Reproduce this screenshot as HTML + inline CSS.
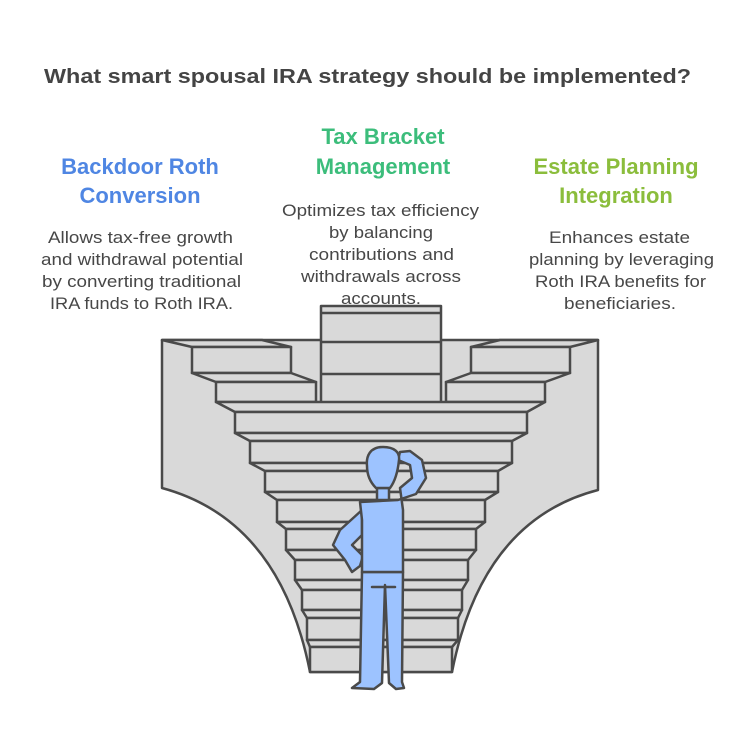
<!DOCTYPE html>
<html><head><meta charset="utf-8"><style>
html,body{margin:0;padding:0;background:#fff;}
svg{display:block;}
text{font-family:"Liberation Sans",sans-serif;}
</style></head><body>
<svg width="748" height="750" viewBox="0 0 748 750" xmlns="http://www.w3.org/2000/svg">
<text x="44" y="83" font-size="20" font-weight="bold" fill="#444" textLength="647" lengthAdjust="spacingAndGlyphs">What smart spousal IRA strategy should be implemented?</text>
<g font-weight="bold" font-size="22" text-anchor="middle">
<text x="140" y="174" fill="#4f86e3">Backdoor Roth</text>
<text x="140" y="203" fill="#4f86e3">Conversion</text>
<text x="383" y="144" fill="#3cbd7b">Tax Bracket</text>
<text x="383" y="174" fill="#3cbd7b">Management</text>
<text x="616" y="174" fill="#8bbd3c">Estate Planning</text>
<text x="616" y="203" fill="#8bbd3c">Integration</text>
</g>
<g font-size="16.5" fill="#474747" lengthAdjust="spacingAndGlyphs">
<text x="48" y="243" textLength="185" lengthAdjust="spacingAndGlyphs">Allows tax-free growth</text>
<text x="41" y="265" textLength="202" lengthAdjust="spacingAndGlyphs">and withdrawal potential</text>
<text x="42" y="287" textLength="199" lengthAdjust="spacingAndGlyphs">by converting traditional</text>
<text x="50" y="309" textLength="183" lengthAdjust="spacingAndGlyphs">IRA funds to Roth IRA.</text>
<text x="282" y="216" textLength="197" lengthAdjust="spacingAndGlyphs">Optimizes tax efficiency</text>
<text x="329" y="238" textLength="104" lengthAdjust="spacingAndGlyphs">by balancing</text>
<text x="309" y="260" textLength="145" lengthAdjust="spacingAndGlyphs">contributions and</text>
<text x="301" y="282" textLength="160" lengthAdjust="spacingAndGlyphs">withdrawals across</text>
<text x="341" y="304" textLength="80" lengthAdjust="spacingAndGlyphs">accounts.</text>
<text x="549" y="243" textLength="141" lengthAdjust="spacingAndGlyphs">Enhances estate</text>
<text x="529" y="265" textLength="185" lengthAdjust="spacingAndGlyphs">planning by leveraging</text>
<text x="535" y="287" textLength="171" lengthAdjust="spacingAndGlyphs">Roth IRA benefits for</text>
<text x="564" y="309" textLength="112" lengthAdjust="spacingAndGlyphs">beneficiaries.</text>
</g>
<g fill="#d9d9d9" stroke="#4a4a4a" stroke-width="2.5" stroke-linejoin="round">
<path d="M162,340 L162,488 Q280,520 310,672 L452,672 Q482,520 598,490 L598,340 Z"/>
<rect x="321" y="306" width="120" height="100"/>
<line x1="321" y1="313" x2="441" y2="313"/>
<line x1="321" y1="342" x2="441" y2="342"/>
<line x1="321" y1="374" x2="441" y2="374"/>
<path d="M162,340 L262,340 L291,347 L192,347 Z"/>
<rect x="192" y="347" width="99" height="26"/>
<path d="M192,373 L291,373 L316,382 L216,382 Z"/>
<rect x="216" y="382" width="100" height="20"/>
<path d="M598,340 L500,340 L471,347 L570,347 Z"/>
<rect x="471" y="347" width="99" height="26"/>
<path d="M570,373 L471,373 L446,382 L545,382 Z"/>
<rect x="446" y="382" width="99" height="20"/>
<path d="M216,402 L545,402 L527,412 L235,412 Z"/>
<rect x="235" y="412" width="292" height="21"/>
<path d="M235,433 L527,433 L512,441 L250,441 Z"/>
<rect x="250" y="441" width="262" height="22"/>
<path d="M250,463 L512,463 L498,471 L265,471 Z"/>
<rect x="265" y="471" width="233" height="21"/>
<path d="M265,492 L498,492 L485,500 L277,500 Z"/>
<rect x="277" y="500" width="208" height="22"/>
<path d="M277,522 L485,522 L476,529 L286,529 Z"/>
<rect x="286" y="529" width="190" height="21"/>
<path d="M286,550 L476,550 L468,560 L295,560 Z"/>
<rect x="295" y="560" width="173" height="20"/>
<path d="M295,580 L468,580 L462,590 L302,590 Z"/>
<rect x="302" y="590" width="160" height="20"/>
<path d="M302,610 L462,610 L458,618 L307,618 Z"/>
<rect x="307" y="618" width="151" height="22"/>
<path d="M307,640 L458,640 L452,647 L310,647 Z"/>
<rect x="310" y="647" width="142" height="25"/>
</g>
<g fill="#9dc3ff" stroke="#4a4a4a" stroke-width="2.5" stroke-linejoin="round" stroke-linecap="round">
<path d="M362,572 L360,682 L352,688 L374,689 L382,683 L385,585 L389,683 L396,689 L404,688 L402,682 L403,572 Z"/>
<path d="M372,587 L395,587"/>
<path d="M362,510 L340,530 L333,545 L345,560 L352,572 L360,566 L363,556 L352,545 L362,535 Z"/>
<path d="M360,502 L398,500 L416,494 L426,478 L422,460 L410,451 L400,452 L398,460 L410,465 L412,478 L400,488 L403,510 L403,572 L362,572 L362,520 Z"/>
<rect x="377" y="488" width="12" height="12"/>
<path d="M383,447 C370,447 366,456 367,466 C367,474 370,482 376,488 L390,488 C396,480 398,470 399,460 C400,452 394,447 383,447 Z"/>
</g>
</svg>
</body></html>
